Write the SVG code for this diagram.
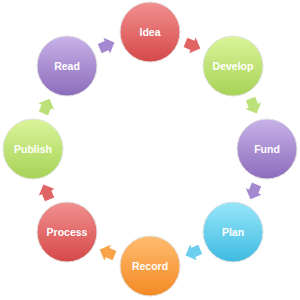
<svg xmlns="http://www.w3.org/2000/svg" width="300" height="300" viewBox="0 0 300 300">
<defs>
<linearGradient id="gRed" x1="0" y1="0" x2="0" y2="1"><stop offset="0" stop-color="#f29090"/><stop offset="1" stop-color="#d54848"/></linearGradient>
<linearGradient id="gGreen" x1="0" y1="0" x2="0" y2="1"><stop offset="0" stop-color="#daf59a"/><stop offset="1" stop-color="#a6d256"/></linearGradient>
<linearGradient id="gPurple" x1="0" y1="0" x2="0" y2="1"><stop offset="0" stop-color="#c8b2e8"/><stop offset="1" stop-color="#8c6cbc"/></linearGradient>
<linearGradient id="gCyan" x1="0" y1="0" x2="0" y2="1"><stop offset="0" stop-color="#98e6fa"/><stop offset="1" stop-color="#3ebbe0"/></linearGradient>
<linearGradient id="gOrange" x1="0" y1="0" x2="0" y2="1"><stop offset="0" stop-color="#ffbc70"/><stop offset="1" stop-color="#f38a24"/></linearGradient>
<path id="arr" d="M-8,-5 L-0.5,-5 L-0.5,-8.5 L8,0 L-0.5,8.5 L-0.5,5 L-8,5 Z"/>
</defs>
<style>
.node circle{stroke:#e2e2e2;stroke-width:1}
.node text{font-family:"Liberation Sans",Arial,sans-serif;font-weight:bold;font-size:10.5px;fill:#ffffff;text-anchor:middle;dominant-baseline:central}
</style>
<rect width="300" height="300" fill="#ffffff"/>
<g id="connectors">
<use href="#arr" fill="#e06464" transform="translate(192.9,45.5) rotate(22.5)"/>
<use href="#arr" fill="#bce07a" transform="translate(253.5,106.1) rotate(67.5)"/>
<use href="#arr" fill="#a488d0" transform="translate(253.5,191.9) rotate(112.5)"/>
<use href="#arr" fill="#6ccfee" transform="translate(192.9,252.5) rotate(157.5)"/>
<use href="#arr" fill="#f8a54a" transform="translate(107.1,252.5) rotate(202.5)"/>
<use href="#arr" fill="#e06464" transform="translate(46.5,191.9) rotate(247.5)"/>
<use href="#arr" fill="#bce07a" transform="translate(46.5,106.1) rotate(292.5)"/>
<use href="#arr" fill="#a488d0" transform="translate(107.1,45.5) rotate(337.5)"/>
</g>
<g id="idea" class="node"><circle cx="150" cy="32" r="30" fill="url(#gRed)"/><text x="150" y="32">Idea</text></g>
<g id="develop" class="node"><circle cx="233" cy="66" r="30" fill="url(#gGreen)"/><text x="233" y="66">Develop</text></g>
<g id="fund" class="node"><circle cx="267" cy="149" r="30" fill="url(#gPurple)"/><text x="267" y="149">Fund</text></g>
<g id="plan" class="node"><circle cx="233" cy="232" r="30" fill="url(#gCyan)"/><text x="233" y="232">Plan</text></g>
<g id="record" class="node"><circle cx="150" cy="266" r="30" fill="url(#gOrange)"/><text x="150" y="266">Record</text></g>
<g id="process" class="node"><circle cx="67" cy="232" r="30" fill="url(#gRed)"/><text x="67" y="232">Process</text></g>
<g id="publish" class="node"><circle cx="33" cy="149" r="30" fill="url(#gGreen)"/><text x="33" y="149">Publish</text></g>
<g id="read" class="node"><circle cx="67" cy="66" r="30" fill="url(#gPurple)"/><text x="67" y="66">Read</text></g>
</svg>
